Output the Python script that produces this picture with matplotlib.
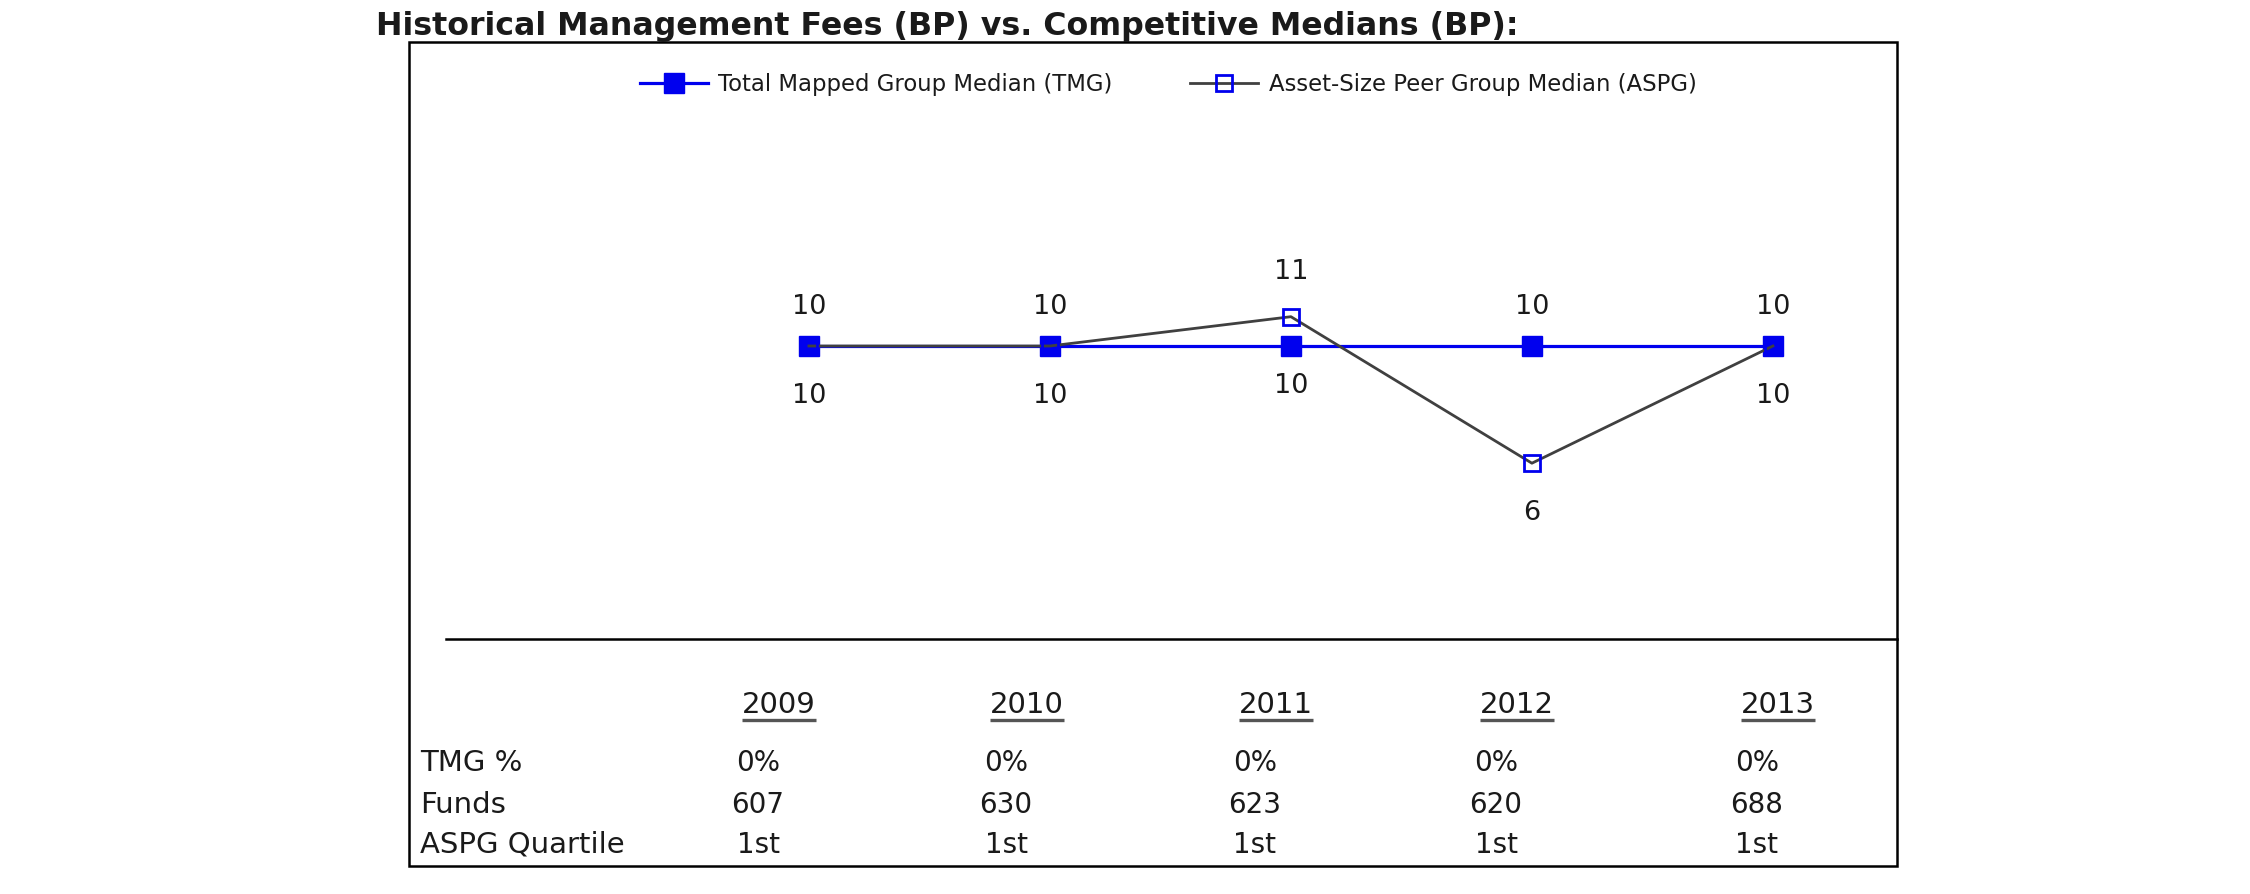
import matplotlib.pyplot as plt
from matplotlib.patches import Rectangle

# data
years = ["2009", "2010", "2011", "2012", "2013"]
tmg_median = [10, 10, 10, 10, 10]
aspg_median = [10, 10, 11, 6, 10]
tmg_pct = ["0%", "0%", "0%", "0%", "0%"]
funds = ["607", "630", "623", "620", "688"]
aspg_quartile = ["1st", "1st", "1st", "1st", "1st"]
row_labels = ["TMG %", "Funds", "ASPG Quartile"]

W, H = 2250, 895
txt_color = "#1a1a1a"
plt.rcParams["font.family"] = "DejaVu Sans"

fig = plt.figure(figsize=(W / 100, H / 100), dpi=100)

# background axes in pixel units: frame, title, table
bg = fig.add_axes([0, 0, 1, 1])
bg.set_xlim(0, W)
bg.set_ylim(H, 0)
bg.axis("off")

bg.text(376, 26, "Historical Management Fees (BP) vs. Competitive Medians (BP):",
        fontsize=22.8, fontweight="bold", color=txt_color, ha="left", va="center")
bg.add_patch(Rectangle((409, 43), 1897 - 409, 867 - 43, fill=False,
                       edgecolor="black", linewidth=1.8))

# chart axes (bottom spine is the separator line)
ax = fig.add_axes([446 / W, 1 - 640 / H, (1897 - 446) / W, (640 - 112.6) / H])
ax.patch.set_visible(False)
x = list(range(len(years)))
ax.plot(x, tmg_median, color="#0000ee", lw=2.3, marker="s", ms=14,
        mfc="#0000ee", mec="#0000ee", label="Total Mapped Group Median (TMG)", zorder=3)
ax.plot(x, aspg_median, color="#404040", lw=2.0, marker="s", ms=12,
        mfc="none", mec="#0000ee", mew=2, label="Asset-Size Peer Group Median (ASPG)", zorder=4)
ax.set_xlim(-1.506, 4.515)
ax.set_ylim(0, 18)
for s in ["top", "left", "right"]:
    ax.spines[s].set_visible(False)
ax.spines["bottom"].set_linewidth(1.8)
ax.set_xticks([])
ax.set_yticks([])

# value labels: higher series above, lower below (TMG above on ties)
for i in x:
    a, t = aspg_median[i], tmg_median[i]
    up_a = a > t
    ax.annotate(str(a), (i, a), xytext=(0, 33 if up_a else -35), textcoords="offset points",
                ha="center", va="center", fontsize=19.5, color=txt_color)
    ax.annotate(str(t), (i, t), xytext=(0, -28 if up_a else 29), textcoords="offset points",
                ha="center", va="center", fontsize=19.5, color=txt_color)

fig.legend(loc="center", bbox_to_anchor=(1168 / W, 1 - 85 / H), ncol=2, frameon=False,
           fontsize=16.4, handlelength=3.0, handletextpad=0.45, columnspacing=3.4,
           labelcolor=txt_color)

# table below the chart
col_x = [779, 1027, 1276, 1517, 1778]
renderer = fig.canvas.get_renderer()
for cx, yr in zip(col_x, years):
    t = bg.text(cx, 705, yr, fontsize=21, ha="center", va="center", color=txt_color)
    ext = t.get_window_extent(renderer)
    # underline under the year header
    bg.plot([ext.x0, ext.x1], [H - ext.y0 + 2, H - ext.y0 + 2], color="#555555", lw=2.4,
            solid_capstyle="butt")

row_y = [763, 805, 845]
for ry, lab in zip(row_y, row_labels):
    bg.text(420, ry, lab, fontsize=21, ha="left", va="center", color=txt_color)
for row, ry in zip([tmg_pct, funds, aspg_quartile], row_y):
    for cx, val in zip(col_x, row):
        bg.text(cx - 21, ry, val, fontsize=20, ha="center", va="center", color=txt_color)

fig.savefig("out.png", dpi=100)
plt.close(fig)
